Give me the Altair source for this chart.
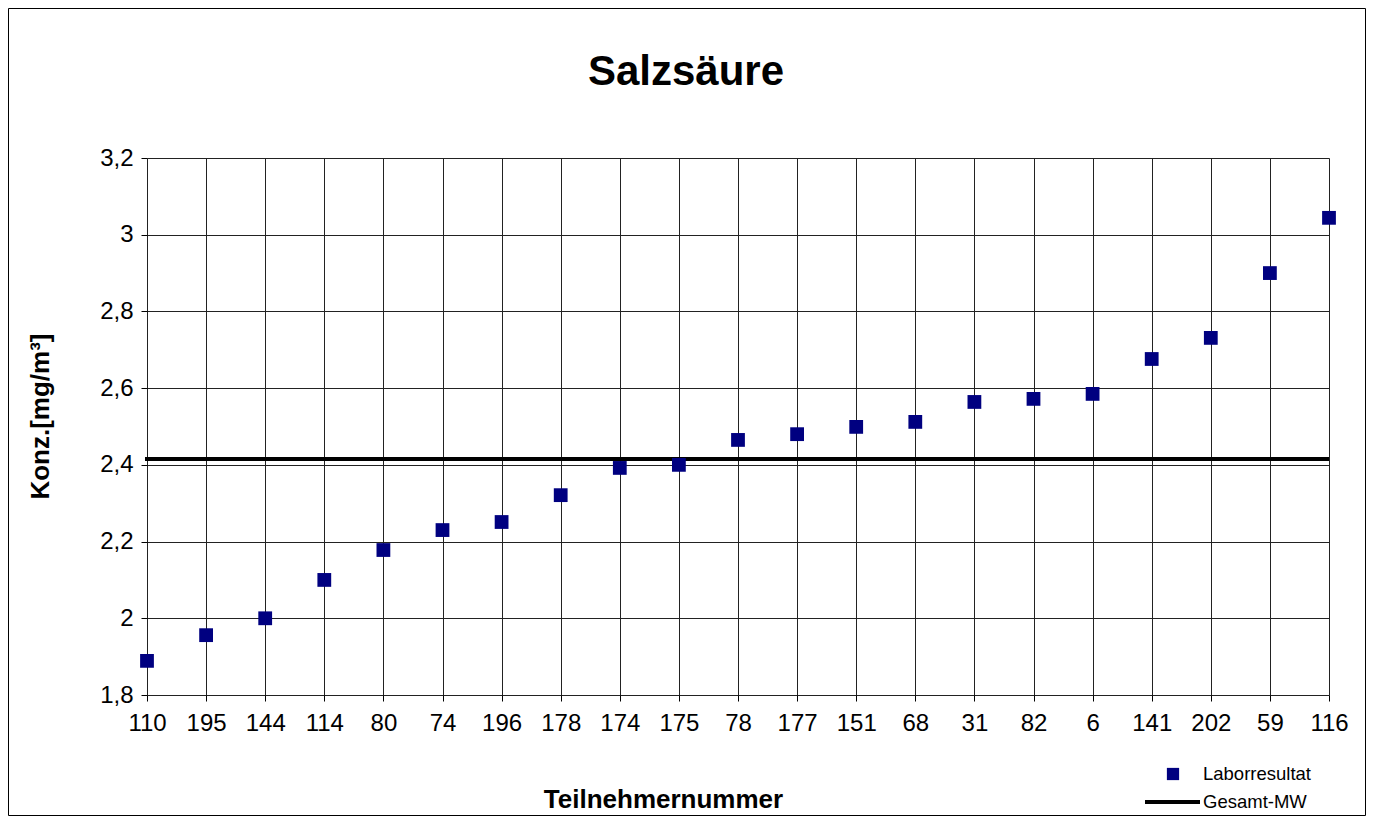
import altair as alt
import pandas as pd

teilnehmer = ["110", "195", "144", "114", "80", "74", "196", "178", "174", "175",
              "78", "177", "151", "68", "31", "82", "6", "141", "202", "59", "116"]
werte = [1.889, 1.956, 2.000, 2.100, 2.178, 2.230, 2.251, 2.321, 2.392, 2.400,
         2.465, 2.480, 2.499, 2.512, 2.564, 2.572, 2.585, 2.676, 2.731, 2.900, 3.044]
gesamt_mw = 2.415
y_ticks = [1.8, 2.0, 2.2, 2.4, 2.6, 2.8, 3.0, 3.2]
legend_labels = ["Laborresultat", "Gesamt-MW"]

W, H = 1182, 537
PL, PT = 139, 150
TOTAL_W, TOTAL_H = 1358, 808
FONT = "Liberation Sans"

df = pd.DataFrame({"Teilnehmer": teilnehmer, "Wert": werte})
mw_df = pd.DataFrame({"mw": [gesamt_mw]})
one = pd.DataFrame({"k": [0]})

x_enc = alt.X("Teilnehmer:N", sort=None,
              scale=alt.Scale(type="point", padding=0),
              axis=alt.Axis(title="Teilnehmernummer", labelAngle=0, labelFontSize=24,
                            labelFont=FONT, labelColor="black", labelPadding=10,
                            tickSize=6, tickColor="black", domain=False,
                            grid=True, gridColor="#222222", gridWidth=1,
                            titleFontSize=26, titleFont=FONT, titleFontWeight="bold",
                            titleColor="black", titleX=516, titleY=104,
                            titleBaseline="middle", titleAnchor="start", titleAlign="center"))
y_enc = alt.Y("Wert:Q",
              scale=alt.Scale(domain=[1.8, 3.2], nice=False, zero=False),
              axis=alt.Axis(title="Konz.[mg/m³]", values=y_ticks, labelFontSize=24,
                            labelFont=FONT, labelColor="black", labelPadding=8,
                            labelExpr="replace(toString(round(datum.value*10)/10), '.', ',')",
                            tickSize=6, tickColor="black", domain=False,
                            grid=True, gridColor="#222222", gridWidth=1,
                            titleFontSize=26, titleFont=FONT, titleFontWeight="bold",
                            titleColor="black", titleX=-107, titleY=258, titleAngle=-90,
                            titleBaseline="middle", titleAlign="center", titleAnchor="start"))

points = alt.Chart(df).mark_square(size=190, color="#000080", opacity=1).encode(x=x_enc, y=y_enc)

mean_line = alt.Chart(mw_df).mark_rule(color="black", strokeWidth=4).encode(
    y=alt.Y("mw:Q", scale=alt.Scale(domain=[1.8, 3.2], nice=False, zero=False)),
    x=alt.value(-2), x2=alt.value(W))

frame = alt.Chart(one).mark_rect(fill=None, stroke="black", strokeWidth=1).encode(
    x=alt.value(-PL + 0.5), x2=alt.value(TOTAL_W - PL - 0.5),
    y=alt.value(-PT + 0.5), y2=alt.value(TOTAL_H - PT - 0.5))

leg_sq = alt.Chart(one).mark_square(size=150, color="#000080", opacity=1).encode(
    x=alt.value(1026), y=alt.value(616))
leg_line = alt.Chart(one).mark_rule(color="black", strokeWidth=4).encode(
    x=alt.value(998), x2=alt.value(1053), y=alt.value(644))
leg_df = pd.DataFrame({"label": legend_labels, "ypos": [616, 644]})
leg_text = alt.Chart(leg_df).mark_text(align="left", baseline="middle", font=FONT,
                                      fontSize=18.5, color="black").encode(
    text="label:N", x=alt.value(1056), y=alt.Y("ypos:Q", scale=None))

chart = alt.layer(frame, mean_line, points, leg_sq, leg_line, leg_text).properties(
    width=W, height=H,
    title=alt.TitleParams("Salzsäure", fontSize=42, font=FONT, fontWeight="bold",
                          color="black", anchor="middle", frame="group", offset=-86, dx=-52),
    autosize=alt.AutoSizeParams(type="none"),
    padding={"left": PL, "top": PT, "right": TOTAL_W - PL - W, "bottom": TOTAL_H - PT - H},
).configure_view(stroke="black", strokeWidth=2).configure(background="white")

chart.save("out.html", embed_options={"renderer": "svg", "actions": False})
